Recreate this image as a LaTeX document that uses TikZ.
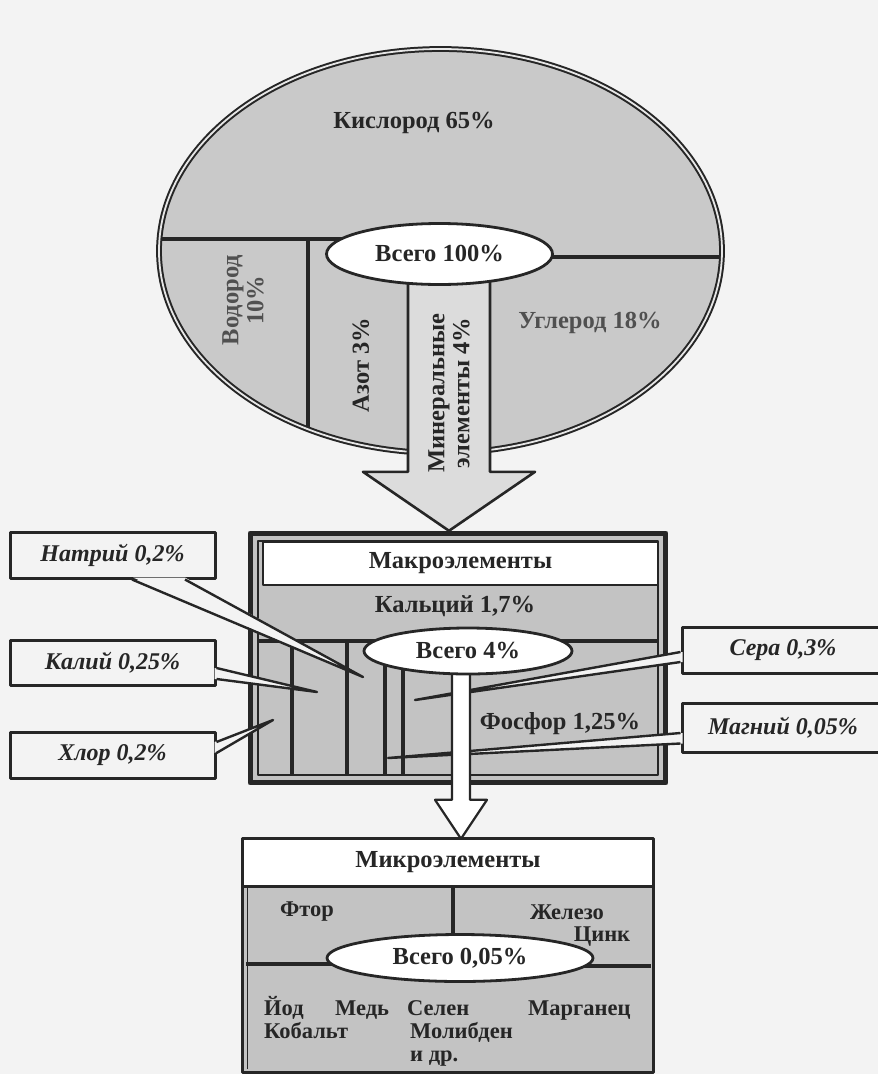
\documentclass[tikz,border=0pt]{standalone}
\usepackage{fontspec}
\setmainfont{Liberation Serif}
\usetikzlibrary{shapes.geometric,calc}
\pgfdeclarelayer{front}
\pgfsetlayers{main,front}
\definecolor{paper}{HTML}{F3F3F3}
\definecolor{ink}{HTML}{262626}
\definecolor{egray}{HTML}{C9C9C9}
\definecolor{agray}{HTML}{DCDCDC}
\definecolor{mgray}{HTML}{C3C3C3}
\definecolor{fade}{HTML}{505050}
\begin{document}
\begin{tikzpicture}[x=1pt,y=-1pt,line join=round,
  lbl/.style={inner sep=0pt,text=ink,align=center,font=\bfseries\fontsize{24.5}{25}\selectfont},
  slbl/.style={inner sep=0pt,text=ink,font=\bfseries\fontsize{22.5}{23}\selectfont},
  clbl/.style={draw=ink,line width=3pt,fill=paper,inner sep=0pt,text=ink,font=\bfseries\itshape\fontsize{24}{25}\selectfont},
  divline/.style={draw=ink,line width=3.2pt},
  oval/.style={ellipse,draw=ink,line width=2.8pt,fill=white,inner sep=0pt,text=ink,font=\bfseries\fontsize{24.5}{25}\selectfont},
  wedge/.style={draw=ink,line width=2.4pt},
  wedgefill/.style={fill=paper}]
\useasboundingbox (0,0) rectangle (878,1074);
\fill[paper] (0,0) rectangle (878,1074);

% ---------- body ellipse ----------
\node[ellipse,fill=egray,minimum width=567pt,minimum height=408pt,inner sep=0pt] (body) at (440.5,251) {};
\begin{scope}
  \clip (body.center) ellipse [x radius=283.5pt, y radius=204pt];
  \draw[divline] (100,239) -- (440,239);
  \draw[divline] (440,257) -- (780,257);
  \draw[divline] (308,239) -- (308,500);
\end{scope}
\draw[ink,line width=2pt,double=egray!45!white,double distance=1.8pt] (body.center) ellipse [x radius=281.5pt, y radius=202pt];

\begin{pgfonlayer}{front}
  \node[oval,minimum width=226pt,minimum height=61pt] (tot100) at (439.5,254) {Всего 100\%};
\end{pgfonlayer}

\node[lbl] (oxy) at (414,123) {Кислород 65\%};
\node[lbl,rotate=90,text=fade] (hyd) at (243,300) {Водород\\10\%};
\node[lbl,rotate=90] (nit) at (361,365) {Азот 3\%};
\node[lbl,text=fade] (carb) at (590,323) {Углерод 18\%};

% ---------- macro box ----------
\node[fill=mgray,minimum width=420pt,minimum height=254pt,inner sep=0pt] (macro) at (458,658) {};
\draw[ink,line width=5.5pt] ($(macro.north west)+(2.75,2.75)$) rectangle ($(macro.south east)+(-2.75,-2.75)$);
\draw[ink,line width=1.5pt] ($(macro.north west)+(10,10)$) rectangle ($(macro.south east)+(-10,-10)$);
\node[draw=ink,line width=1.5pt,fill=white,minimum width=395pt,minimum height=43pt,inner sep=0pt,text=ink,font=\bfseries\fontsize{24.5}{25}\selectfont] (macrohead) at (460.5,563.5) {Макроэлементы};
\draw[divline] (258,641) -- (658,641);
\foreach \x in {292,347,385,403} \draw[divline] (\x,641) -- (\x,775);
\node[lbl] (calc) at (455,606) {Кальций 1,7\%};
\node[lbl] (phos) at (560,724) {Фосфор 1,25\%};
\begin{pgfonlayer}{front}
  \node[oval,minimum width=208pt,minimum height=46pt] (tot4) at (468,651) {Всего 4\%};
\end{pgfonlayer}

% ---------- big arrow ----------
\coordinate (atop) at ($(tot100.center)+(9.5,0)$);
\coordinate (atip) at (atop |- macro.north);
\draw[ink,line width=2.6pt,fill=agray] ($(atop)+(-41,0)$) -- ($(atip)+(-41,-59)$) -- ($(atip)+(-86,-59)$) -- (atip) -- ($(atip)+(86,-59)$) -- ($(atip)+(41,-59)$) -- ($(atop)+(41,0)$);
\node[lbl,rotate=90] (mineral) at (449,393) {Минеральные\\элементы 4\%};

% ---------- callouts ----------
\node[clbl,minimum width=205pt,minimum height=46pt] (na) at (112.5,555) {Натрий 0,2\%};
\coordinate (natip) at (363,677);
\fill[wedgefill] ($(na.south)+(20.5,-2)$) -- ($(na.south)+(72.5,-2)$) -- (natip) -- cycle;
\draw[wedge] ($(na.south)+(19.5,0)$) -- (natip) -- ($(na.south)+(72.5,0)$);

\node[clbl,minimum width=205pt,minimum height=45pt] (ka) at (112.5,662.5) {Калий 0,25\%};
\coordinate (katip) at (317,692);
\fill[wedgefill] ($(ka.east)+(-2,5.5)$) -- ($(ka.east)+(-2,16.5)$) -- (katip) -- cycle;
\draw[wedge] ($(ka.east)+(0,5.5)$) -- (katip) -- ($(ka.east)+(0,16.5)$);

\node[clbl,minimum width=205pt,minimum height=46pt] (cl) at (112.5,755) {Хлор 0,2\%};
\coordinate (cltip) at (273,720);
\fill[wedgefill] ($(cl.east)+(-2,-13)$) -- ($(cl.east)+(-2,-2)$) -- (cltip) -- cycle;
\draw[wedge] ($(cl.east)+(0,-13)$) -- (cltip) -- ($(cl.east)+(0,-2)$);

\node[clbl,minimum width=202pt,minimum height=46pt] (s) at (783,650) {Сера 0,3\%};
\coordinate (stip) at (415,700);
\fill[wedgefill] ($(s.west)+(2,2)$) -- ($(s.west)+(2,12)$) -- (stip) -- cycle;
\draw[wedge] ($(s.west)+(0,2)$) -- (stip) -- ($(s.west)+(0,12)$);

\node[clbl,minimum width=202pt,minimum height=49pt] (mg) at (783,727.5) {Магний 0,05\%};
\coordinate (mgtip) at (388,758);
\fill[wedgefill] ($(mg.west)+(2,5.5)$) -- ($(mg.west)+(2,16)$) -- (mgtip) -- cycle;
\draw[wedge] ($(mg.west)+(0,5.5)$) -- (mgtip) -- ($(mg.west)+(0,16)$);

% ---------- micro box ----------
\node[fill=mgray,minimum width=410pt,minimum height=233pt,inner sep=0pt] (micro) at (448,955.5) {};
\node[fill=white,minimum width=410pt,minimum height=47pt,inner sep=0pt,text=ink,font=\bfseries\fontsize{24.5}{25}\selectfont] (microhead) at (448,862.5) {Микроэлементы};
\draw[divline] (microhead.south west) -- (microhead.south east);
\draw[ink,line width=3pt] (micro.north west) rectangle (micro.south east);
\draw[ink,line width=1.2pt] ($(micro.south west)+(5,-3)$) -- ($(microhead.south west)+(5,0)$);
\draw[divline] (453,886) -- (453,945);
\draw[divline] (246,964) -- (460,964);
\draw[divline] (460,966) -- (651,966);
\node[oval,minimum width=266pt,minimum height=47pt] (tot005) at (460,958) {Всего 0,05\%};
\node[slbl] (ftor) at (307,912) {Фтор};
\node[slbl] (fe) at (567,912) {Железо};
\node[slbl] (zn) at (602,937) {Цинк};
\node[slbl,anchor=base west] (iod) at (264,1015) {Йод};
\node[slbl,anchor=base west] (cu) at (335,1015) {Медь};
\node[slbl,anchor=base west] (se) at (407,1015) {Селен};
\node[slbl,anchor=base west] (mn) at (528,1015) {Марганец};
\node[slbl,anchor=base west] (co) at (264,1038) {Кобальт};
\node[slbl,anchor=base west] (mo) at (410,1038) {Молибден};
\node[slbl,anchor=base west] (etc) at (410,1061) {и др.};

% ---------- small white arrow ----------
\coordinate (btop) at ($(tot4.center)+(-7,0)$);
\coordinate (btip) at (btop |- micro.north);
\draw[ink,line width=2.2pt,fill=white] ($(btop)+(-9,0)$) -- ($(btip)+(-9,-39)$) -- ($(btip)+(-26,-39)$) -- (btip) -- ($(btip)+(26,-39)$) -- ($(btip)+(9,-39)$) -- ($(btop)+(9,0)$);
\end{tikzpicture}
\end{document}
